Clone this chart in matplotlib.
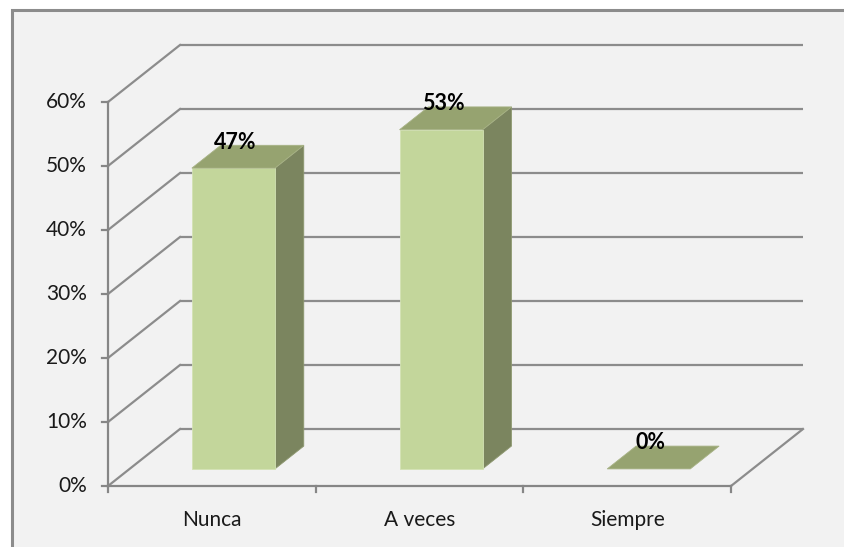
import numpy as np
import matplotlib.pyplot as plt
from matplotlib.patches import Polygon, Rectangle

categories = ["Nunca", "A veces", "Siempre"]
values = [47, 53, 0]
labels = ["47%", "53%", "0%"]
yticks = [0, 10, 20, 30, 40, 50, 60]

plt.rcParams['font.family'] = ['Lato', 'DejaVu Sans']

# pseudo-3d layout: x in category units, y in percent, depth 0 (front) .. 1 (back)
DX = 0.3467
DY = 8.906
bar_w = 0.4
d0, d1 = 0.3, 0.7

front_c = '#c3d69b'
top_c = '#96a370'
side_c = '#7b855f'
grid_c = '#8c8c8c'
axis_c = '#868686'


def proj(x, v, d):
    return (x + d * DX, v + d * DY)


fig = plt.figure(figsize=(8.45, 5.47), dpi=100, facecolor='white')
ax = fig.add_axes([0, 0, 1, 1])
ax.set_xlim(-108 / 207.67, (845 - 108) / 207.67)
ax.set_ylim(-61 / 6.4, 486 / 6.4)
ax.axis('off')

# chart area frame
ax.add_patch(Rectangle((12 / 845, -0.1), 1.2, 1.1 - 10 / 547, transform=ax.transAxes,
                       facecolor='#f2f2f2', edgecolor=grid_c, lw=2.2, zorder=0))

ncat = len(categories)

# back wall gridlines and left wall diagonals
for t in yticks:
    bx0, by0 = proj(0, t, 1)
    bx1, by1 = proj(ncat, t, 1)
    ax.plot([bx0, bx1], [by0, by1], color=grid_c, lw=1.6, zorder=1, solid_capstyle='butt')
    fx, fy = proj(0, t, 0)
    ax.plot([fx, bx0], [fy, by0], color=grid_c, lw=1.6, zorder=1)

# floor right edge
rx0, ry0 = proj(ncat, 0, 0)
rx1, ry1 = proj(ncat, 0, 1)
ax.plot([rx0, rx1], [ry0, ry1], color=grid_c, lw=1.6, zorder=1)

# axes lines and ticks
ax.plot([0, ncat], [0, 0], color=axis_c, lw=1.6, zorder=2)
ax.plot([0, 0], [0, yticks[-1]], color=axis_c, lw=1.6, zorder=2)
for t in yticks:
    ax.plot([-6 / 207.67, 0], [t, t], color=axis_c, lw=1.6, zorder=2)
    ax.text(-21 / 207.67, t, f"{t}%", ha='right', va='center', fontsize=15, color='#1a1a1a')
for i in range(ncat + 1):
    ax.plot([i, i], [0, -6 / 6.4], color=axis_c, lw=1.6, zorder=2)

# bars
for i, (cat, v, lab) in enumerate(zip(categories, values, labels)):
    xc = i + 0.5
    xa, xb = xc - bar_w / 2, xc + bar_w / 2
    front = [proj(xa, 0, d0), proj(xb, 0, d0), proj(xb, v, d0), proj(xa, v, d0)]
    top = [proj(xa, v, d0), proj(xb, v, d0), proj(xb, v, d1), proj(xa, v, d1)]
    side = [proj(xb, 0, d0), proj(xb, 0, d1), proj(xb, v, d1), proj(xb, v, d0)]
    if v > 0:
        ax.add_patch(Polygon(side, closed=True, facecolor=side_c, edgecolor='#8e9870', lw=0.6, zorder=3))
        ax.add_patch(Polygon(front, closed=True, facecolor=front_c, edgecolor='#d3e2b4', lw=0.6, zorder=3))
    ax.add_patch(Polygon(top, closed=True, facecolor=top_c, edgecolor='#a7b285', lw=0.6, zorder=3))

    lx, _ = proj(xc, v, d0)
    _, ly = proj(xc, v, d1)
    ax.text(lx + 0.01, ly + 0.5, lab, ha='center', va='center', fontsize=15.5,
            fontweight='bold', color='black', zorder=4)
    ax.text(xc, -5.3, cat, ha='center', va='center', fontsize=15, color='#1a1a1a')

fig.savefig('out.png', dpi=100, facecolor=fig.get_facecolor())
